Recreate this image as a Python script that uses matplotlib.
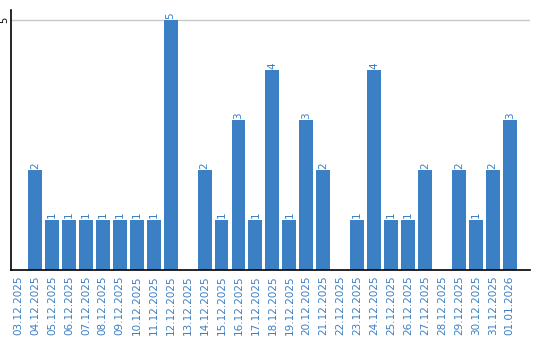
import matplotlib
matplotlib.use("Agg")
import matplotlib.pyplot as plt

dates = [
    "03.12.2025", "04.12.2025", "05.12.2025", "06.12.2025", "07.12.2025",
    "08.12.2025", "09.12.2025", "10.12.2025", "11.12.2025", "12.12.2025",
    "13.12.2025", "14.12.2025", "15.12.2025", "16.12.2025", "17.12.2025",
    "18.12.2025", "19.12.2025", "20.12.2025", "21.12.2025", "22.12.2025",
    "23.12.2025", "24.12.2025", "25.12.2025", "26.12.2025", "27.12.2025",
    "28.12.2025", "29.12.2025", "30.12.2025", "31.12.2025", "01.01.2026",
]
counts = [0, 2, 1, 1, 1, 1, 1, 1, 1, 5,
          0, 2, 1, 3, 1, 4, 1, 3, 2, 0,
          1, 4, 1, 1, 2, 0, 2, 1, 2, 3]

blue = "#3b7fc4"

fig = plt.figure(figsize=(5.4, 3.4), dpi=100)
ax = fig.add_axes([11 / 540, 70 / 340, 519 / 540, 260 / 340])

x = range(len(dates))
ax.bar(x, counts, width=0.82, color=blue, zorder=2)

for i, v in enumerate(counts):
    if v > 0:
        ax.text(i, v + 0.03, str(v), rotation=90, ha="center", va="bottom",
                color=blue, fontsize=7.5)

ax.set_xlim(-0.42, 30.2)
ax.set_ylim(0, 5.2)
ax.set_yticks([5])
ax.set_yticklabels(["5"], rotation=90, va="center", fontsize=7)
ax.yaxis.grid(True, color="#c8c8c8", linewidth=1, zorder=0)
ax.tick_params(axis="y", length=0, pad=1)

ax.set_xticks(list(x))
ax.set_xticklabels(dates, rotation=90, fontsize=7.5, color=blue)
ax.tick_params(axis="x", length=0, pad=4)

for side in ["top", "right"]:
    ax.spines[side].set_visible(False)
ax.spines["left"].set_linewidth(1.2)
ax.spines["bottom"].set_linewidth(1.2)

fig.savefig("out.png", dpi=100)
